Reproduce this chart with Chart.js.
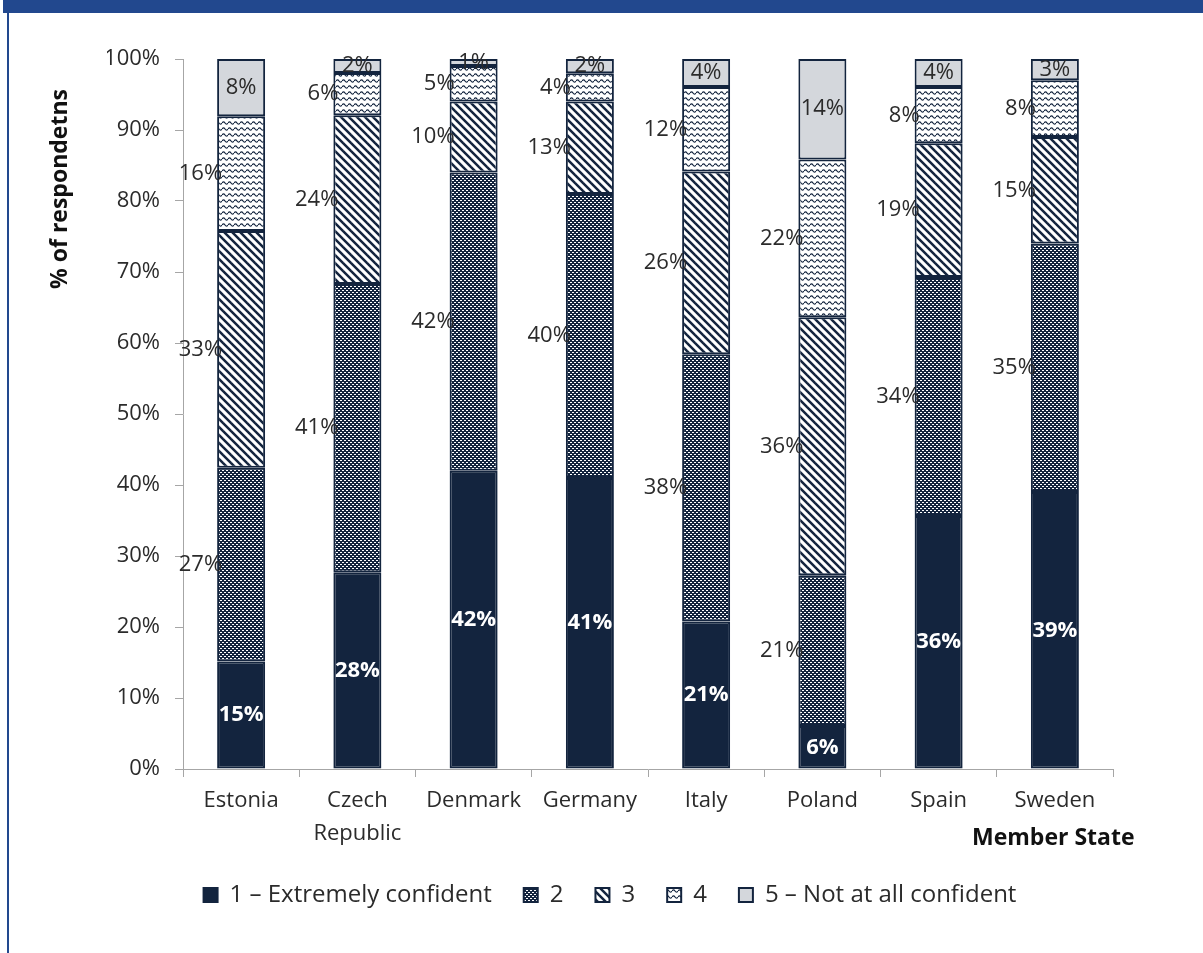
<!DOCTYPE html>
<html lang="en">
  <head>
    <meta charset="UTF-8" />
    <title>Confidence by Member State</title>
    <style>
      body {
        margin: 0;
        background-color: white;
      }
      #wrap {
        position: relative;
        width: 1203px;
        height: 953px;
        overflow: hidden;
      }
      #topbar {
        position: absolute;
        left: 3px;
        top: 0;
        width: 1200px;
        height: 13px;
        background-color: #22488e;
      }
      #leftline {
        position: absolute;
        left: 7px;
        top: 0;
        width: 2px;
        height: 953px;
        background-color: #22488e;
      }
      canvas {
        position: absolute;
        left: 0;
        top: 0;
      }
    </style>
  </head>
  <body>
    <script src="https://cdn.jsdelivr.net/npm/chart.js@4/dist/chart.umd.min.js"></script>
    <div id="wrap">
      <div id="leftline"></div>
      <div id="topbar"></div>
      <canvas id="bar-chart" width="1203" height="953"></canvas>
    </div>
    <script>
      const countries = ["Estonia", ["Czech", "Republic"], "Denmark", "Germany", "Italy", "Poland", "Spain", "Sweden"];
      const seriesNames = ["1 \u2013 Extremely confident", "2", "3", "4", "5 \u2013 Not at all confident"];
      const level1 = [15, 28, 42, 41, 21, 6, 36, 39];
      const level2 = [27, 41, 42, 40, 38, 21, 34, 35];
      const level3 = [33, 24, 10, 13, 26, 36, 19, 15];
      const level4 = [16, 6, 5, 4, 12, 22, 8, 8];
      const level5 = [8, 2, 1, 2, 4, 14, 4, 3];
      const yTicks = [0, 10, 20, 30, 40, 50, 60, 70, 80, 90, 100];

      const levels = [level1, level2, level3, level4, level5];
      const NAVY = "#13243e";
      const FONT = "'Open Sans', sans-serif";
      const TEXT = "#2b2b2b";

      // 100% stacked, like the spreadsheet does it
      const totals = countries.map((c, i) => levels.reduce((s, l) => s + l[i], 0));
      const shares = levels.map((l) => l.map((v, i) => (v / totals[i]) * 100));

      function makePattern(w, h, draw) {
        const c = document.createElement("canvas");
        c.width = w;
        c.height = h;
        const g = c.getContext("2d");
        draw(g, w, h);
        return g.createPattern(c, "repeat");
      }

      const dots = makePattern(4, 4, (g) => {
        g.fillStyle = NAVY;
        g.fillRect(0, 0, 4, 4);
        g.fillStyle = "#ffffff";
        g.fillRect(0, 0, 2, 1);
        g.fillRect(2, 2, 2, 1);
      });
      const stripes = makePattern(8, 8, (g) => {
        g.fillStyle = "#ffffff";
        g.fillRect(0, 0, 8, 8);
        g.strokeStyle = NAVY;
        g.lineWidth = 2.5;
        [-8, 0, 8].forEach((x0) => {
          g.beginPath();
          g.moveTo(x0 - 1, -1);
          g.lineTo(x0 + 9, 9);
          g.stroke();
        });
      });
      const waves = makePattern(6, 6, (g) => {
        g.fillStyle = "#ffffff";
        g.fillRect(0, 0, 6, 6);
        g.strokeStyle = NAVY;
        g.lineWidth = 1.2;
        g.beginPath();
        g.moveTo(0, 3);
        g.quadraticCurveTo(1.5, 0.6, 3, 3);
        g.quadraticCurveTo(4.5, 5.4, 6, 3);
        g.stroke();
      });
      const fills = [NAVY, dots, stripes, waves, "#d4d7dc"];

      const labelPlugin = {
        id: "segLabels",
        afterDatasetsDraw(chart) {
          const ctx = chart.ctx;
          ctx.save();
          ctx.textBaseline = "middle";
          chart.data.datasets.forEach((ds, di) => {
            const meta = chart.getDatasetMeta(di);
            meta.data.forEach((bar, i) => {
              const txt = levels[di][i] + "%";
              const midY = (bar.y + bar.base) / 2;
              if (di === 0) {
                ctx.font = "bold 22px " + FONT;
                ctx.fillStyle = "#ffffff";
                ctx.textAlign = "center";
                ctx.fillText(txt, bar.x, midY);
              } else if (di === 4) {
                ctx.font = "22px " + FONT;
                ctx.fillStyle = TEXT;
                ctx.textAlign = "center";
                ctx.fillText(txt, bar.x, midY);
              } else {
                ctx.font = "22px " + FONT;
                ctx.fillStyle = TEXT;
                ctx.textAlign = "right";
                ctx.fillText(txt, bar.x - bar.width / 2 + 5, midY);
              }
            });
          });
          // axis titles
          ctx.fillStyle = "#111111";
          ctx.font = "bold 23px " + FONT;
          ctx.textAlign = "left";
          ctx.fillText("Member State", 972, 838);
          ctx.translate(60, 189);
          ctx.rotate(-Math.PI / 2);
          ctx.textAlign = "center";
          ctx.fillText("% of respondetns", 0, 0);
          ctx.restore();
        },
      };

      var chart = new Chart(document.getElementById("bar-chart"), {
        type: "bar",
        data: {
          labels: countries,
          datasets: seriesNames.map((name, k) => ({
            label: name,
            data: shares[k],
            backgroundColor: fills[k],
            borderColor: NAVY,
            borderWidth: 2,
            borderSkipped: false,
            categoryPercentage: 1,
            barPercentage: 0.413,
          })),
        },
        options: {
          responsive: false,
          animation: false,
          layout: {
            padding: { left: 107, right: 90, top: 59, bottom: 36 },
          },
          plugins: {
            tooltip: { enabled: false },
            legend: {
              position: "bottom",
              labels: {
                font: { family: FONT, size: 24 },
                color: TEXT,
                boxWidth: 14,
                boxHeight: 14,
                padding: 32,
              },
            },
          },
          scales: {
            x: {
              stacked: true,
              grid: {
                drawOnChartArea: false,
                tickLength: 8,
                color: "#a6a6a6",
              },
              border: { color: "#a6a6a6" },
              ticks: {
                font: { family: FONT, size: 22, lineHeight: 1.5 },
                color: TEXT,
                padding: 7.5,
                maxRotation: 0,
              },
              afterFit(scale) {
                scale.height = 82;
              },
            },
            y: {
              stacked: true,
              min: 0,
              max: 100,
              afterBuildTicks(scale) {
                scale.ticks = yTicks.map((v) => ({ value: v }));
              },
              grid: {
                drawOnChartArea: false,
                tickLength: 8,
                color: "#a6a6a6",
              },
              border: { color: "#a6a6a6" },
              ticks: {
                font: { family: FONT, size: 22 },
                color: TEXT,
                padding: 15,
                callback: (v) => v + "%",
              },
              afterFit(scale) {
                scale.width = 76;
              },
            },
          },
        },
        plugins: [labelPlugin],
      });
    </script>
  </body>
</html>
